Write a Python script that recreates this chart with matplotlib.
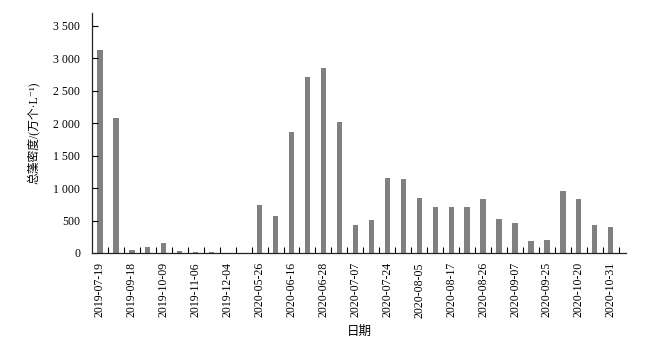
import matplotlib
matplotlib.use("Agg")
import matplotlib.pyplot as plt
import numpy as np
from matplotlib.ticker import FuncFormatter, FixedLocator

# sampling dates (only every other one is labelled on the axis)
dates = ["2019-07-19", "", "2019-09-18", "", "2019-10-09", "", "2019-11-06", "",
         "2019-12-04", "", "2020-05-26", "", "2020-06-16", "", "2020-06-28", "",
         "2020-07-07", "", "2020-07-24", "", "2020-08-05", "", "2020-08-17", "",
         "2020-08-26", "", "2020-09-07", "", "2020-09-25", "", "2020-10-20", "",
         "2020-10-31"]

# total algae density (10^4 cells/L)
density = [3125, 2085, 46, 90, 150, 30, 8, 15, 4, 4,
           745, 566, 1862, 2708, 2855, 2024, 434, 509, 1162, 1148,
           850, 705, 705, 715, 835, 525, 465, 187, 200, 958,
           835, 437, 407]

serif = ["Liberation Serif", "Noto Sans CJK SC", "DejaVu Serif"]
plt.rcParams["font.family"] = serif

fig = plt.figure(figsize=(6.5, 3.38), dpi=100)
ax = fig.add_axes([0.1415, 0.2515, 0.963 - 0.1415, 0.9615 - 0.2515])

x = np.arange(len(density))
ax.bar(x, density, width=0.33, color="#808080")

ax.set_xlim(-0.5, 32.95)
ax.set_ylim(0, 3700)
ax.set_yticks(np.arange(0, 3501, 500))
ax.yaxis.set_major_formatter(FuncFormatter(lambda v, p: f"{v:,.0f}".replace(",", " ")))

# labelled ticks every other category, marks at category boundaries
ax.xaxis.set_major_locator(FixedLocator(x[::2]))
ax.set_xticklabels([d for d in dates[::2]], rotation=90)
ax.xaxis.set_minor_locator(FixedLocator(x + 0.5))
ax.tick_params(axis="x", which="major", length=0, pad=6.5, labelsize=8.5)
ax.tick_params(axis="x", which="minor", direction="in", length=4, width=0.8)
ax.tick_params(axis="y", direction="in", length=4.5, width=0.8, pad=8.5, labelsize=8.5)

for s in ["top", "right"]:
    ax.spines[s].set_visible(False)
for s in ["left", "bottom"]:
    ax.spines[s].set_linewidth(0.9)
    ax.spines[s].set_color("#222222")

ax.set_ylabel("总藻密度/(万个·L⁻¹)", fontsize=8.5, labelpad=10)
ax.set_xlabel("日期", fontsize=9, labelpad=6)

fig.savefig("out.png", dpi=100)
